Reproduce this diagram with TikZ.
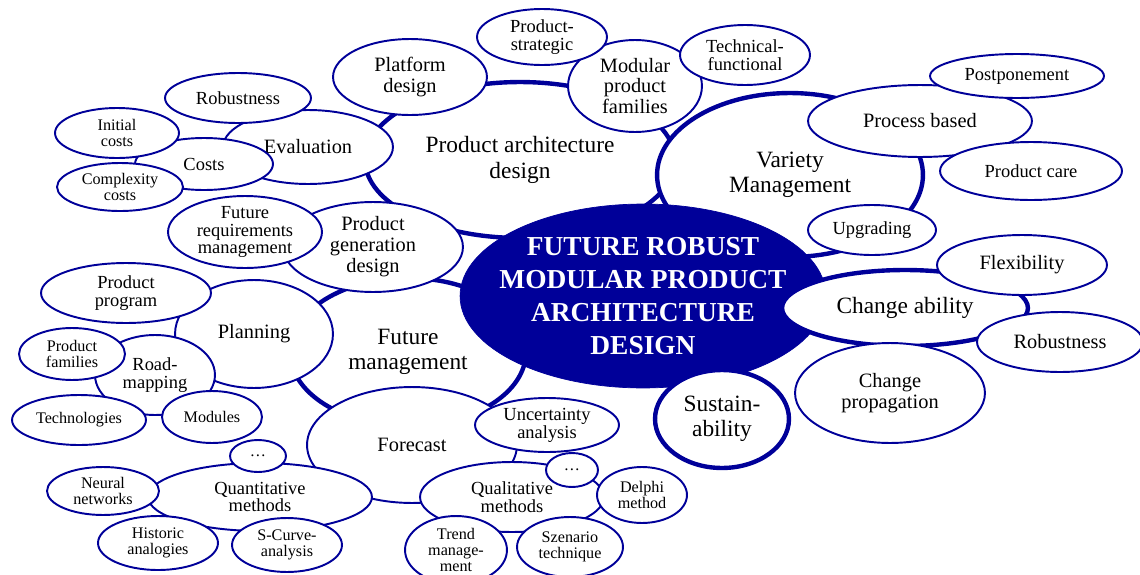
\documentclass[tikz,border=0pt]{standalone}
\usepackage{fontspec}
\setmainfont{Liberation Serif}
\usetikzlibrary{shapes.geometric}
\definecolor{navy}{RGB}{0,0,153}
\tikzset{
  rad/.style 2 args={minimum width=#1*0.04cm, minimum height=#2*0.04cm},
  bubble/.style={ellipse, draw=navy, line width=1.1pt, fill=white, inner sep=-4pt, align=center},
  topic/.style={bubble, line width=2.5pt},
  core/.style={ellipse, fill=navy, draw=navy, text=white, inner sep=-12pt, align=center,
    font=\fontsize{15.6pt}{18.7pt}\selectfont\bfseries},
  fbig/.style={font=\fontsize{13.3pt}{14.4pt}\selectfont},
  fmed/.style={font=\fontsize{11.6pt}{11.9pt}\selectfont},
  fsmall/.style={font=\fontsize{10.5pt}{10.2pt}\selectfont},
  ftiny/.style={font=\fontsize{9.2pt}{9.1pt}\selectfont},
}
\begin{document}
\begin{tikzpicture}[x=0.02cm, y=-0.02cm]
    \useasboundingbox (0,0) rectangle (1140,575);
    % Topics behind the core
    \node[topic, fbig, rad={155}{78}] (archdesign) at (520,160) {Product architecture\\design};
    \node[topic, fbig, rad={133}{82}] (variety) at (790,175) {Variety\\Management};
    \node[topic, fbig, rad={118}{74}] (futmgmt) at (408,352) {Future\\management};
    % Core
    \node[core, rad={183}{92}] (core) at (643,296) {FUTURE ROBUST\\MODULAR PRODUCT\\ARCHITECTURE\\DESIGN};
    \node[topic, fbig, rad={123}{38}] (changeab) at (905,308) {Change ability};
    \node[topic, fbig, rad={67}{49}] (sustain) at (722,419) {Sustain-\\ability};

    % Product architecture design
    \node[bubble, fmed, rad={77}{38}] (platform) at (410,77) {Platform\\design};
    \node[bubble, fmed, rad={67}{46}] (modfam) at (635,86) {Modular\\product\\families};
    \node[bubble, fsmall, rad={65}{28}] (prodstrat) at (542,37) {Product-\\strategic};
    \node[bubble, fsmall, rad={65}{30}] (techfunc) at (745,55) {Technical-\\functional};
    \node[bubble, fmed, rad={85}{37}] (evaluation) at (308,147) {Evaluation};
    \node[bubble, fsmall, rad={73}{25}] (robleft) at (238,98) {Robustness};
    \node[bubble, fsmall, rad={69}{26}] (costs) at (204,164) {Costs};
    \node[bubble, ftiny, rad={62}{25}] (initcosts) at (117,133) {Initial\\costs};
    \node[bubble, ftiny, rad={63}{24}] (cplxcosts) at (120,187) {Complexity\\costs};
    \node[bubble, fmed, rad={90}{45}] (gendesign) at (373,247) {Product\\generation\\design};
    \node[bubble, fsmall, rad={77}{36}] (futreq) at (245,232) {Future\\requirements\\management};

    % Future management
    \node[bubble, fmed, rad={79}{54}] (planning) at (254,334) {Planning};
    \node[bubble, fsmall, rad={85}{30}] (prodprog) at (126,293) {Product\\program};
    \node[bubble, fsmall, rad={60}{40}] (roadmap) at (155,375) {Road-\\mapping};
    \node[bubble, ftiny, rad={53}{26}] (prodfam) at (72,354) {Product\\families};
    \node[bubble, ftiny, rad={67}{25}] (technol) at (79,420) {Technologies};
    \node[bubble, ftiny, rad={50}{26}] (modules) at (212,417) {Modules};
    \node[bubble, fmed, rad={105}{58}] (forecast) at (412,445) {Forecast};
    \node[bubble, fsmall, rad={112}{34}] (quant) at (260,497) {Quantitative\\methods};
    \node[bubble, ftiny, rad={28}{16}] (quantmore) at (258,456) {\dots};
    \node[bubble, ftiny, rad={56}{24}] (neural) at (103,491) {Neural\\networks};
    \node[bubble, ftiny, rad={60}{27}] (historic) at (158,543) {Historic\\analogies};
    \node[bubble, ftiny, rad={55}{27}] (scurve) at (287,545) {S-Curve-\\analysis};
    \node[bubble, fsmall, rad={92}{35}] (qual) at (512,497) {Qualitative\\methods};
    \node[bubble, fsmall, rad={72}{27}] (uncert) at (547,425) {Uncertainty\\analysis};
    \node[bubble, ftiny, rad={26}{17}] (qualmore) at (572,470) {\dots};
    \node[bubble, ftiny, rad={45}{28}] (delphi) at (642,495) {Delphi\\method};
    \node[bubble, ftiny, rad={51}{34}] (trend) at (456,550) {Trend\\manage-\\ment};
    \node[bubble, ftiny, rad={53}{30}] (szenario) at (570,547) {Szenario\\technique};

    % Variety management
    \node[bubble, fmed, rad={112}{36}] (procbased) at (920,121) {Process based};
    \node[bubble, fsmall, rad={87}{22}] (postpone) at (1017,76) {Postponement};
    \node[bubble, fsmall, rad={91}{29}] (prodcare) at (1031,171) {Product care};
    \node[bubble, fsmall, rad={64}{25}] (upgrading) at (872,230) {Upgrading};

    % Change ability
    \node[bubble, fmed, rad={85}{30}] (flex) at (1022,265) {Flexibility};
    \node[bubble, fmed, rad={83}{30}] (robright) at (1060,342) {Robustness};
    \node[bubble, fmed, rad={95}{50}] (changeprop) at (890,393) {Change\\propagation};
\end{tikzpicture}
\end{document}
